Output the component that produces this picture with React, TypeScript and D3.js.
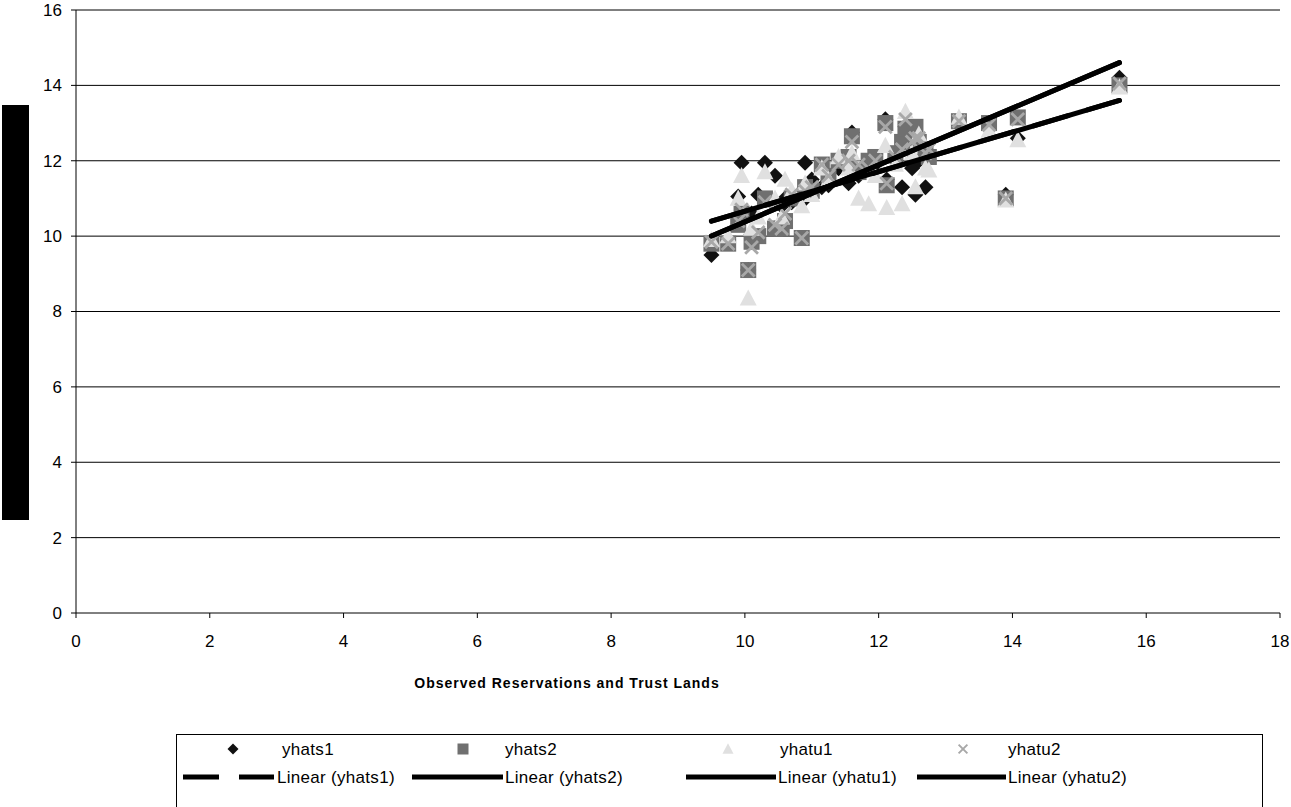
import React from 'react';
import * as d3 from 'd3';

// observed values (x) and predicted values for each series
const observed = [9.5, 9.75, 9.9, 9.95, 10.05, 10.1, 10.2, 10.3, 10.45, 10.55, 10.6, 10.7, 10.85, 10.9, 11.0, 11.15, 11.25, 11.4, 11.55, 11.6, 11.7, 11.85, 11.95, 12.1, 12.12, 12.25, 12.35, 12.4, 12.5, 12.55, 12.6, 12.7, 12.75, 13.2, 13.65, 13.9, 14.08, 15.6];
const yhats1 = [9.5, 9.9, 11.05, 11.95, 9.1, 10.6, 11.1, 11.95, 11.6, 10.8, 11.0, 10.9, 10.9, 11.95, 11.5, 11.3, 11.35, 11.8, 11.4, 12.75, 11.6, 12.0, 11.9, 13.1, 11.5, 12.0, 11.3, 12.9, 11.8, 11.1, 12.0, 11.3, 12.1, 13.0, 12.9, 11.1, 12.6, 14.2];
const yhats2 = [9.8, 9.8, 10.3, 10.6, 9.1, 9.85, 10.0, 11.0, 10.2, 10.2, 10.4, 11.0, 9.95, 11.3, 11.2, 11.9, 11.6, 12.0, 12.1, 12.65, 11.7, 12.0, 12.1, 13.0, 11.35, 12.2, 12.5, 12.85, 12.6, 12.9, 12.5, 12.3, 12.1, 13.05, 13.0, 11.0, 13.15, 14.0];
const yhatu1 = [9.9, 10.0, 11.0, 11.6, 8.35, 10.2, 10.5, 11.7, 11.0, 10.5, 11.5, 11.2, 10.8, 11.4, 11.1, 11.8, 11.5, 12.1, 11.8, 12.2, 11.0, 10.85, 11.6, 12.4, 10.75, 11.9, 10.85, 13.3, 12.2, 11.3, 12.7, 11.8, 11.75, 13.15, 12.8, 10.95, 12.55, 13.95];
const yhatu2 = [9.85, 9.8, 10.4, 10.7, 9.1, 9.7, 10.1, 10.9, 10.3, 10.2, 10.6, 11.1, 9.95, 11.2, 11.3, 11.9, 11.6, 11.9, 12.0, 12.5, 11.9, 11.8, 12.0, 12.9, 11.4, 12.1, 12.3, 13.1, 12.5, 12.6, 12.6, 12.2, 12.3, 13.05, 12.95, 11.0, 13.1, 14.05];

const seriesNames = ['yhats1', 'yhats2', 'yhatu1', 'yhatu2'];
const seriesValues = [yhats1, yhats2, yhatu1, yhatu2];
const seriesColors = ['#111111', '#707070', '#e0e0e0', '#a8a8a8'];
const seriesShapes = ['diamond', 'square', 'triangle', 'cross'];

// linear trend lines: y = slope * x + intercept
const trendSlope = [0.525, 0.754, 0.525, 0.754];
const trendIntercept = [5.41, 2.84, 5.41, 2.84];

const xTicks = [0, 2, 4, 6, 8, 10, 12, 14, 16, 18];
const yTicks = [0, 2, 4, 6, 8, 10, 12, 14, 16];

const W = 1291;
const H = 807;
const font = 'Liberation Sans, Arial, sans-serif';

const Marker = ({ shape, x, y, r, color }: { shape: string; x: number; y: number; r: number; color: string }) => {
  if (shape === 'diamond') {
    return <path d={`M${x},${y - r}L${x + r},${y}L${x},${y + r}L${x - r},${y}Z`} fill={color} />;
  }
  if (shape === 'square') {
    return <rect x={x - r} y={y - r} width={r * 2} height={r * 2} fill={color} />;
  }
  if (shape === 'triangle') {
    return <path d={`M${x},${y - r * 1.05}L${x + r},${y + r * 0.85}L${x - r},${y + r * 0.85}Z`} fill={color} />;
  }
  const c = r * 0.8;
  return (
    <path
      d={`M${x - c},${y - c}L${x + c},${y + c}M${x - c},${y + c}L${x + c},${y - c}`}
      stroke={color}
      strokeWidth={r * 0.35}
      fill="none"
    />
  );
};

export default function App() {
  const x = d3.scaleLinear().domain([0, 18]).range([76, 1280]);
  const y = d3.scaleLinear().domain([0, 16]).range([613, 10]);
  const [xMin, xMax] = d3.extent(observed) as [number, number];
  const markerR = [8, 8, 8.5, 8];

  const line = d3.line<[number, number]>().x(d => x(d[0])).y(d => y(d[1]));

  const legendRow1 = [
    { mx: 233, tx: 282 },
    { mx: 463, tx: 505 },
    { mx: 728, tx: 780 },
    { mx: 963, tx: 1008 },
  ];
  const legendRow2 = [
    { x1: 183, x2: 274, tx: 277 },
    { x1: 412, x2: 503, tx: 505 },
    { x1: 686, x2: 776, tx: 778 },
    { x1: 917, x2: 1006, tx: 1008 },
  ];

  return (
    <svg width={W} height={H} style={{ position: 'absolute', left: 0, top: 0, background: '#fff' }} fontFamily={font}>
      {/* y axis label box */}
      <rect x={2} y={105} width={27} height={415} fill="#000" />

      {/* gridlines */}
      {yTicks.slice(1).map(t => (
        <line key={t} x1={x(0)} x2={x(18)} y1={y(t)} y2={y(t)} stroke="#000" strokeWidth={1} />
      ))}

      {/* axes */}
      <line x1={x(0)} x2={x(0)} y1={y(0)} y2={y(16)} stroke="#000" />
      <line x1={x(0)} x2={x(18)} y1={y(0)} y2={y(0)} stroke="#000" />
      {yTicks.map(t => (
        <g key={t}>
          <line x1={x(0) - 5} x2={x(0)} y1={y(t)} y2={y(t)} stroke="#000" />
          <text x={62} y={y(t)} dy="0.35em" textAnchor="end" fontSize={17}>{t}</text>
        </g>
      ))}
      {xTicks.map(t => (
        <g key={t}>
          <line x1={x(t)} x2={x(t)} y1={y(0)} y2={y(0) + 5} stroke="#000" />
          <text x={x(t)} y={641} dy="0.35em" textAnchor="middle" fontSize={17}>{t}</text>
        </g>
      ))}

      <text x={567} y={683} dy="0.35em" textAnchor="middle" fontSize={14} fontWeight="bold" letterSpacing={1}>
        Observed Reservations and Trust Lands
      </text>

      {/* points */}
      {seriesValues.map((vals, si) => (
        <g key={si}>
          {vals.map((v, i) => (
            <Marker key={i} shape={seriesShapes[si]} x={x(observed[i])} y={y(v)} r={markerR[si]} color={seriesColors[si]} />
          ))}
        </g>
      ))}

      {/* trend lines */}
      {seriesNames.map((n, si) => (
        <path
          key={n}
          d={line([[xMin, trendSlope[si] * xMin + trendIntercept[si]], [xMax, trendSlope[si] * xMax + trendIntercept[si]]]) || ''}
          stroke="#000"
          strokeWidth={5}
          strokeLinecap="round"
          fill="none"
          strokeDasharray={si === 0 ? '36,20' : undefined}
        />
      ))}

      {/* legend */}
      <rect x={176.5} y={734.5} width={1086} height={90} fill="#fff" stroke="#000" />
      {seriesNames.map((n, si) => (
        <g key={n}>
          <Marker shape={seriesShapes[si]} x={legendRow1[si].mx} y={749} r={5.5} color={seriesColors[si]} />
          <text x={legendRow1[si].tx} y={749} dy="0.35em" fontSize={17} letterSpacing={0.3}>{n}</text>
          <line
            x1={legendRow2[si].x1}
            x2={legendRow2[si].x2}
            y1={777}
            y2={777}
            stroke="#000"
            strokeWidth={5}
            strokeDasharray={si === 0 ? '36,20' : undefined}
          />
          <text x={legendRow2[si].tx} y={777} dy="0.35em" fontSize={17} letterSpacing={0.3}>{`Linear (${n})`}</text>
        </g>
      ))}
    </svg>
  );
}
